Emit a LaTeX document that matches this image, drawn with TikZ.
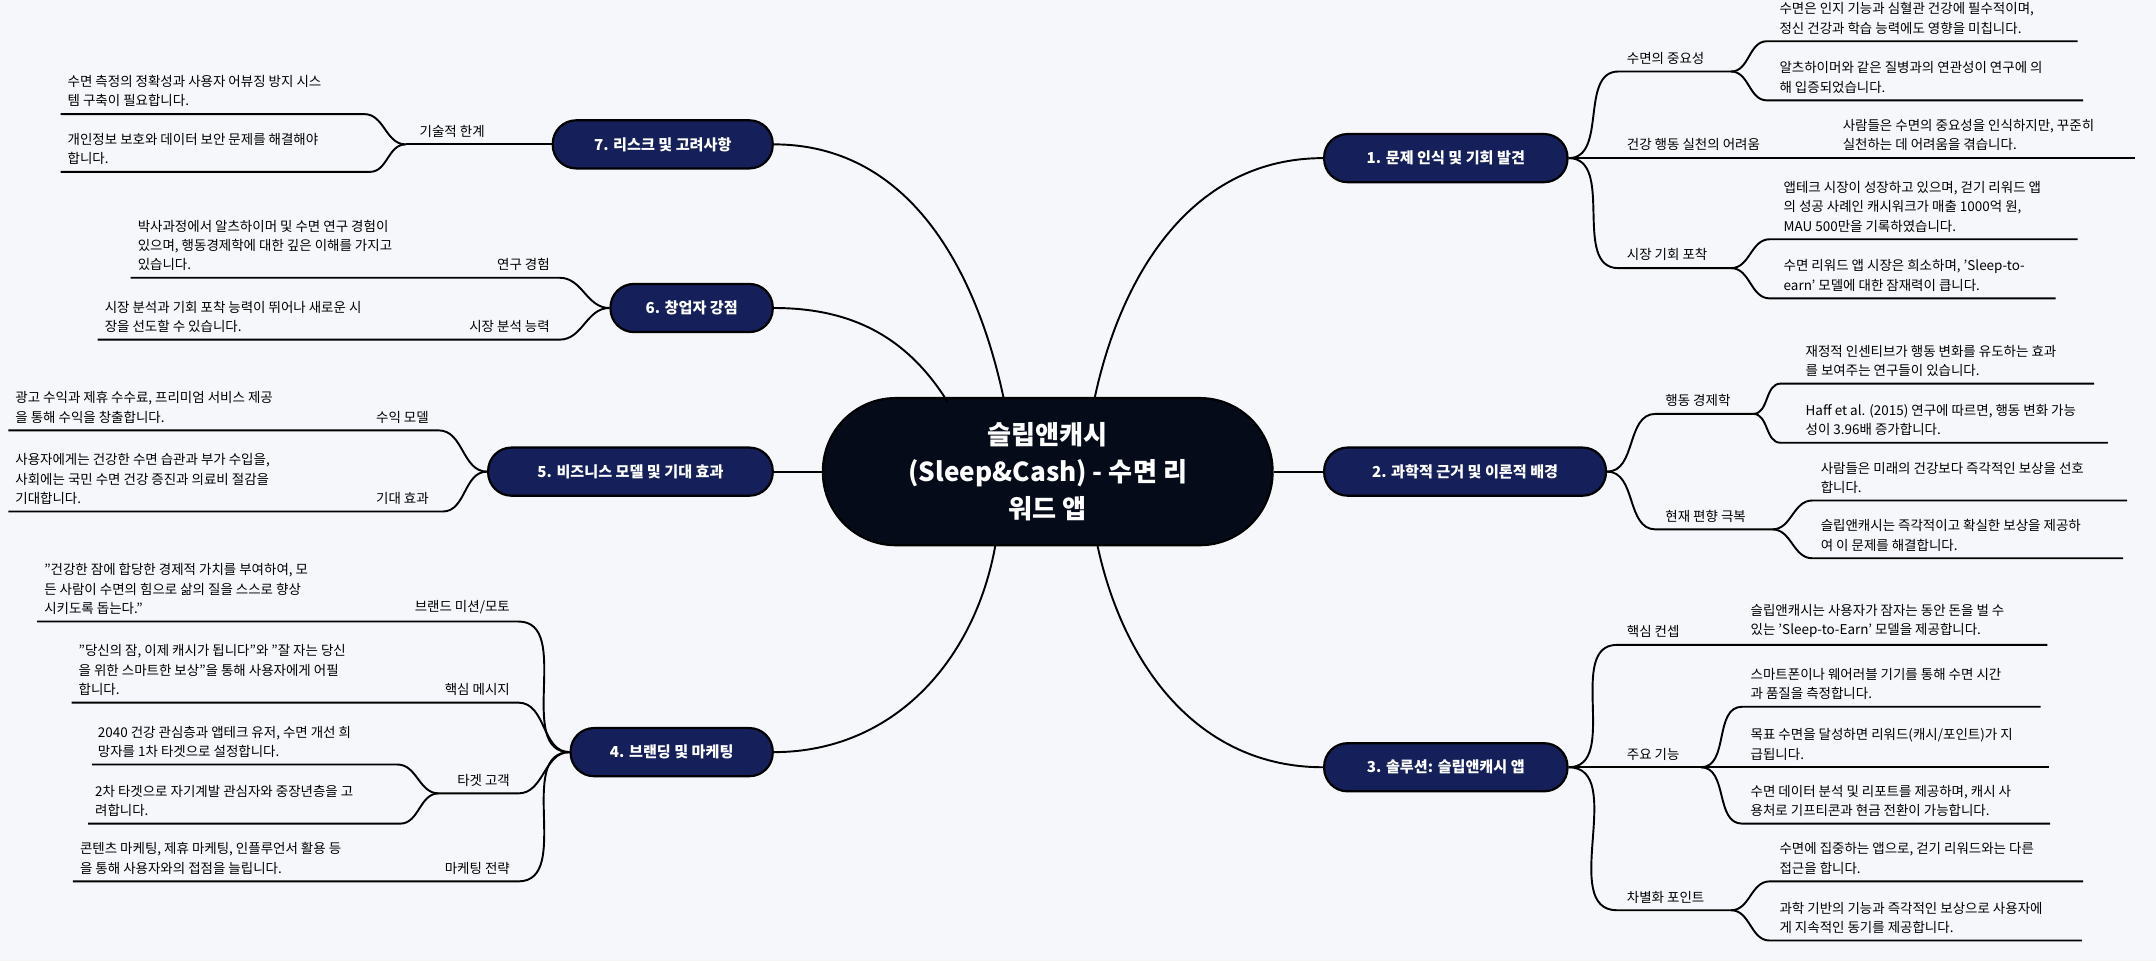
\documentclass[tikz,border=0pt]{standalone}
\usepackage{fontspec}
\setmainfont{Noto Sans CJK KR}
\usepackage{tikz}

\definecolor{bgcol}{HTML}{F5F7FA}
\definecolor{navy}{HTML}{15205A}
\definecolor{rootcol}{HTML}{050B18}

\tikzset{
  topic/.style={draw=black, fill=navy, line width=1.6pt, rounded corners=17pt, minimum height=35pt,
    inner sep=0pt, text=white, font=\fontsize{11}{13}\selectfont\bfseries},
  leaf/.style={anchor=south west, align=left, inner sep=0pt, font=\fontsize{9.8}{14}\selectfont},
  lab/.style={anchor=south west, inner sep=0pt, font=\fontsize{9.8}{14}\selectfont},
  link/.style={draw=black, line width=1.4pt},
}

\begin{document}
\begin{tikzpicture}[x=1pt, y=-1pt]
  \fill[bgcol] (0,0) rectangle (1568,699);

  % root and topics
  \node[draw=black, fill=rootcol, line width=1.6pt, rounded corners=53pt, minimum width=327pt, minimum height=107pt,
    align=center, text=white, font=\fontsize{19}{27}\selectfont\bfseries] (root) at (762,343)
    {슬립앤캐시\\(Sleep\&Cash) - 수면 리\\워드 앱};
  \node[topic, minimum width=177pt] (t1) at (1051.5,115) {1. 문제 인식 및 기회 발견};
  \node[topic, minimum width=205pt] (t2) at (1065.5,343) {2. 과학적 근거 및 이론적 배경};
  \node[topic, minimum width=177pt] (t3) at (1051.5,558) {3. 솔루션: 슬립앤캐시 앱};
  \node[topic, minimum width=147pt] (t4) at (488.5,547) {4. 브랜딩 및 마케팅};
  \node[topic, minimum width=207pt] (t5) at (458.5,343) {5. 비즈니스 모델 및 기대 효과};
  \node[topic, minimum width=118pt] (t6) at (503,224) {6. 창업자 강점};
  \node[topic, minimum width=160pt] (t7) at (482,105) {7. 리스크 및 고려사항};

  \coordinate (r1) at (796,290);
  \coordinate (r3) at (798,396);
  \coordinate (r4) at (724,396);
  \coordinate (r6) at (689,292);
  \coordinate (r7) at (730,290);
  \draw[link] (r1) to[out=78,in=180] (t1.west);
  \draw[link] (root.east) -- (t2.west);
  \draw[link] (r3) to[out=-78,in=180] (t3.west);
  \draw[link] (r4) to[out=-100,in=0] (t4.east);
  \draw[link] (root.west) -- (t5.east);
  \draw[link] (r6) to[out=122,in=0] (t6.east);
  \draw[link] (r7) to[out=102,in=0] (t7.east);

  % 1. 문제 인식 및 기회 발견
  \coordinate (u1a) at (1177,52);  \coordinate (v1a) at (1259,52);
  \coordinate (u1c) at (1177,195); \coordinate (v1c) at (1259,195);
  \draw[link] (t1.east) to[out=0,in=180] (u1a) -- (v1a);
  \draw[link] (t1.east) -- (1553,115);
  \draw[link] (t1.east) to[out=0,in=180] (u1c) -- (v1c);
  \draw[link] (v1a) to[out=0,in=180] (1285,30) -- (1511,30);
  \draw[link] (v1a) to[out=0,in=180] (1285,73) -- (1515,73);
  \draw[link] (v1c) to[out=0,in=180] (1287,174) -- (1511,174);
  \draw[link] (v1c) to[out=0,in=180] (1287,217) -- (1495,217);
  \node[lab] (s1a) at (1183,47) {수면의 중요성};
  \node[lab] (s1b) at (1183,110) {건강 행동 실천의 어려움};
  \node[lab] (s1c) at (1183,190) {시장 기회 포착};
  \node[leaf] (l1a) at (1294,25) {수면은 인지 기능과 심혈관 건강에 필수적이며,\\정신 건강과 학습 능력에도 영향을 미칩니다.};
  \node[leaf] (l1b) at (1294,68) {알츠하이머와 같은 질병과의 연관성이 연구에 의\\해 입증되었습니다.};
  \node[leaf] (l1c) at (1340,110) {사람들은 수면의 중요성을 인식하지만, 꾸준히\\실천하는 데 어려움을 겪습니다.};
  \node[leaf] (l1d) at (1297,169) {앱테크 시장이 성장하고 있으며, 걷기 리워드 앱\\의 성공 사례인 캐시워크가 매출 1000억 원,\\MAU 500만을 기록하였습니다.};
  \node[leaf] (l1e) at (1297,212) {수면 리워드 앱 시장은 희소하며, 'Sleep-to-\\earn' 모델에 대한 잠재력이 큽니다.};

  % 2. 과학적 근거 및 이론적 배경
  \coordinate (u2a) at (1204,301); \coordinate (v2a) at (1275,301);
  \coordinate (u2b) at (1204,385); \coordinate (v2b) at (1289,385);
  \draw[link] (t2.east) to[out=0,in=180] (u2a) -- (v2a);
  \draw[link] (t2.east) to[out=0,in=180] (u2b) -- (v2b);
  \draw[link] (v2a) to[out=0,in=180] (1295,279) -- (1523,279);
  \draw[link] (v2a) to[out=0,in=180] (1295,322) -- (1533,322);
  \draw[link] (v2b) to[out=0,in=180] (1318,364) -- (1547,364);
  \draw[link] (v2b) to[out=0,in=180] (1318,406) -- (1544,406);
  \node[lab] (s2a) at (1211,296) {행동 경제학};
  \node[lab] (s2b) at (1211,380) {현재 편향 극복};
  \node[leaf] (l2a) at (1313,274) {재정적 인센티브가 행동 변화를 유도하는 효과\\를 보여주는 연구들이 있습니다.};
  \node[leaf] (l2b) at (1313,317) {Haff et al. (2015) 연구에 따르면, 행동 변화 가능\\성이 3.96배 증가합니다.};
  \node[leaf] (l2c) at (1324,359) {사람들은 미래의 건강보다 즉각적인 보상을 선호\\합니다.};
  \node[leaf] (l2d) at (1324,401) {슬립앤캐시는 즉각적이고 확실한 보상을 제공하\\여 이 문제를 해결합니다.};

  % 3. 솔루션: 슬립앤캐시 앱
  \coordinate (u3a) at (1176,469);
  \coordinate (v3b) at (1237,558);
  \coordinate (u3c) at (1176,662); \coordinate (v3c) at (1259,662);
  \draw[link] (t3.east) to[out=0,in=180] (u3a) -- (1489,469);
  \draw[link] (t3.east) -- (v3b) -- (1490,558);
  \draw[link] (t3.east) to[out=0,in=180] (u3c) -- (v3c);
  \draw[link] (v3b) to[out=0,in=180] (1267,514) -- (1484,514);
  \draw[link] (v3b) to[out=0,in=180] (1267,599) -- (1491,599);
  \draw[link] (v3c) to[out=0,in=180] (1287,641) -- (1515,641);
  \draw[link] (v3c) to[out=0,in=180] (1287,684) -- (1514,684);
  \node[lab] (s3a) at (1183,464) {핵심 컨셉};
  \node[lab] (s3b) at (1183,553) {주요 기능};
  \node[lab] (s3c) at (1183,657) {차별화 포인트};
  \node[leaf] (l3a) at (1273,464) {슬립앤캐시는 사용자가 잠자는 동안 돈을 벌 수\\있는 'Sleep-to-Earn' 모델을 제공합니다.};
  \node[leaf] (l3b) at (1273,509) {스마트폰이나 웨어러블 기기를 통해 수면 시간\\과 품질을 측정합니다.};
  \node[leaf] (l3c) at (1273,553) {목표 수면을 달성하면 리워드(캐시/포인트)가 지\\급됩니다.};
  \node[leaf] (l3d) at (1273,594) {수면 데이터 분석 및 리포트를 제공하며, 캐시 사\\용처로 기프티콘과 현금 전환이 가능합니다.};
  \node[leaf] (l3e) at (1294,636) {수면에 집중하는 앱으로, 걷기 리워드와는 다른\\접근을 합니다.};
  \node[leaf] (l3f) at (1294,679) {과학 기반의 기능과 즉각적인 보상으로 사용자에\\게 지속적인 동기를 제공합니다.};

  % 4. 브랜딩 및 마케팅
  \coordinate (u4a) at (377,452);
  \coordinate (u4b) at (377,511);
  \coordinate (u4c) at (377,577); \coordinate (v4c) at (319,577);
  \coordinate (u4d) at (377,641);
  \draw[link] (t4.west) to[out=180,in=0] (u4a) -- (27,452);
  \draw[link] (t4.west) to[out=180,in=0] (u4b) -- (52,511);
  \draw[link] (t4.west) to[out=180,in=0] (u4c) -- (v4c);
  \draw[link] (t4.west) to[out=180,in=0] (u4d) -- (53,641);
  \draw[link] (v4c) to[out=180,in=0] (289,556) -- (67,556);
  \draw[link] (v4c) to[out=180,in=0] (291,599) -- (64,599);
  \node[lab, anchor=south east] (s4a) at (371,447) {브랜드 미션/모토};
  \node[lab, anchor=south east] (s4b) at (371,506) {핵심 메시지};
  \node[lab, anchor=south east] (s4c) at (371,572) {타겟 고객};
  \node[lab, anchor=south east] (s4d) at (371,636) {마케팅 전략};
  \node[leaf] (l4a) at (32,447) {"건강한 잠에 합당한 경제적 가치를 부여하여, 모\\든 사람이 수면의 힘으로 삶의 질을 스스로 향상\\시키도록 돕는다."};
  \node[leaf] (l4b) at (57,506) {"당신의 잠, 이제 캐시가 됩니다"와 "잘 자는 당신\\을 위한 스마트한 보상"을 통해 사용자에게 어필\\합니다.};
  \node[leaf] (l4c) at (71,551) {2040 건강 관심층과 앱테크 유저, 수면 개선 희\\망자를 1차 타겟으로 설정합니다.};
  \node[leaf] (l4d) at (69,594) {2차 타겟으로 자기계발 관심자와 중장년층을 고\\려합니다.};
  \node[leaf] (l4e) at (58,636) {콘텐츠 마케팅, 제휴 마케팅, 인플루언서 활용 등\\을 통해 사용자와의 접점을 늘립니다.};

  % 5. 비즈니스 모델 및 기대 효과
  \coordinate (u5a) at (319,313);
  \coordinate (u5b) at (322,372);
  \draw[link] (t5.west) to[out=180,in=0] (u5a) -- (6,313);
  \draw[link] (t5.west) to[out=180,in=0] (u5b) -- (6,372);
  \node[lab, anchor=south east] (s5a) at (312,308) {수익 모델};
  \node[lab, anchor=south east] (s5b) at (312,367) {기대 효과};
  \node[leaf] (l5a) at (11,308) {광고 수익과 제휴 수수료, 프리미엄 서비스 제공\\을 통해 수익을 창출합니다.};
  \node[leaf] (l5b) at (11,367) {사용자에게는 건강한 수면 습관과 부가 수입을,\\사회에는 국민 수면 건강 증진과 의료비 절감을\\기대합니다.};

  % 6. 창업자 강점
  \coordinate (u6a) at (407,202);
  \coordinate (u6b) at (407,247);
  \draw[link] (t6.west) to[out=180,in=0] (u6a) -- (95,202);
  \draw[link] (t6.west) to[out=180,in=0] (u6b) -- (71,247);
  \node[lab, anchor=south east] (s6a) at (400,197) {연구 경험};
  \node[lab, anchor=south east] (s6b) at (400,242) {시장 분석 능력};
  \node[leaf] (l6a) at (100,197) {박사과정에서 알츠하이머 및 수면 연구 경험이\\있으며, 행동경제학에 대한 깊은 이해를 가지고\\있습니다.};
  \node[leaf] (l6b) at (76,242) {시장 분석과 기회 포착 능력이 뛰어나 새로운 시\\장을 선도할 수 있습니다.};

  % 7. 리스크 및 고려사항
  \coordinate (u7) at (295,105);
  \draw[link] (t7.west) -- (u7);
  \draw[link] (u7) to[out=180,in=0] (265,83) -- (44,83);
  \draw[link] (u7) to[out=180,in=0] (269,125) -- (44,125);
  \node[lab] (s7) at (305,100) {기술적 한계};
  \node[leaf] (l7a) at (49,78) {수면 측정의 정확성과 사용자 어뷰징 방지 시스\\템 구축이 필요합니다.};
  \node[leaf] (l7b) at (49,120) {개인정보 보호와 데이터 보안 문제를 해결해야\\합니다.};
\end{tikzpicture}
\end{document}
